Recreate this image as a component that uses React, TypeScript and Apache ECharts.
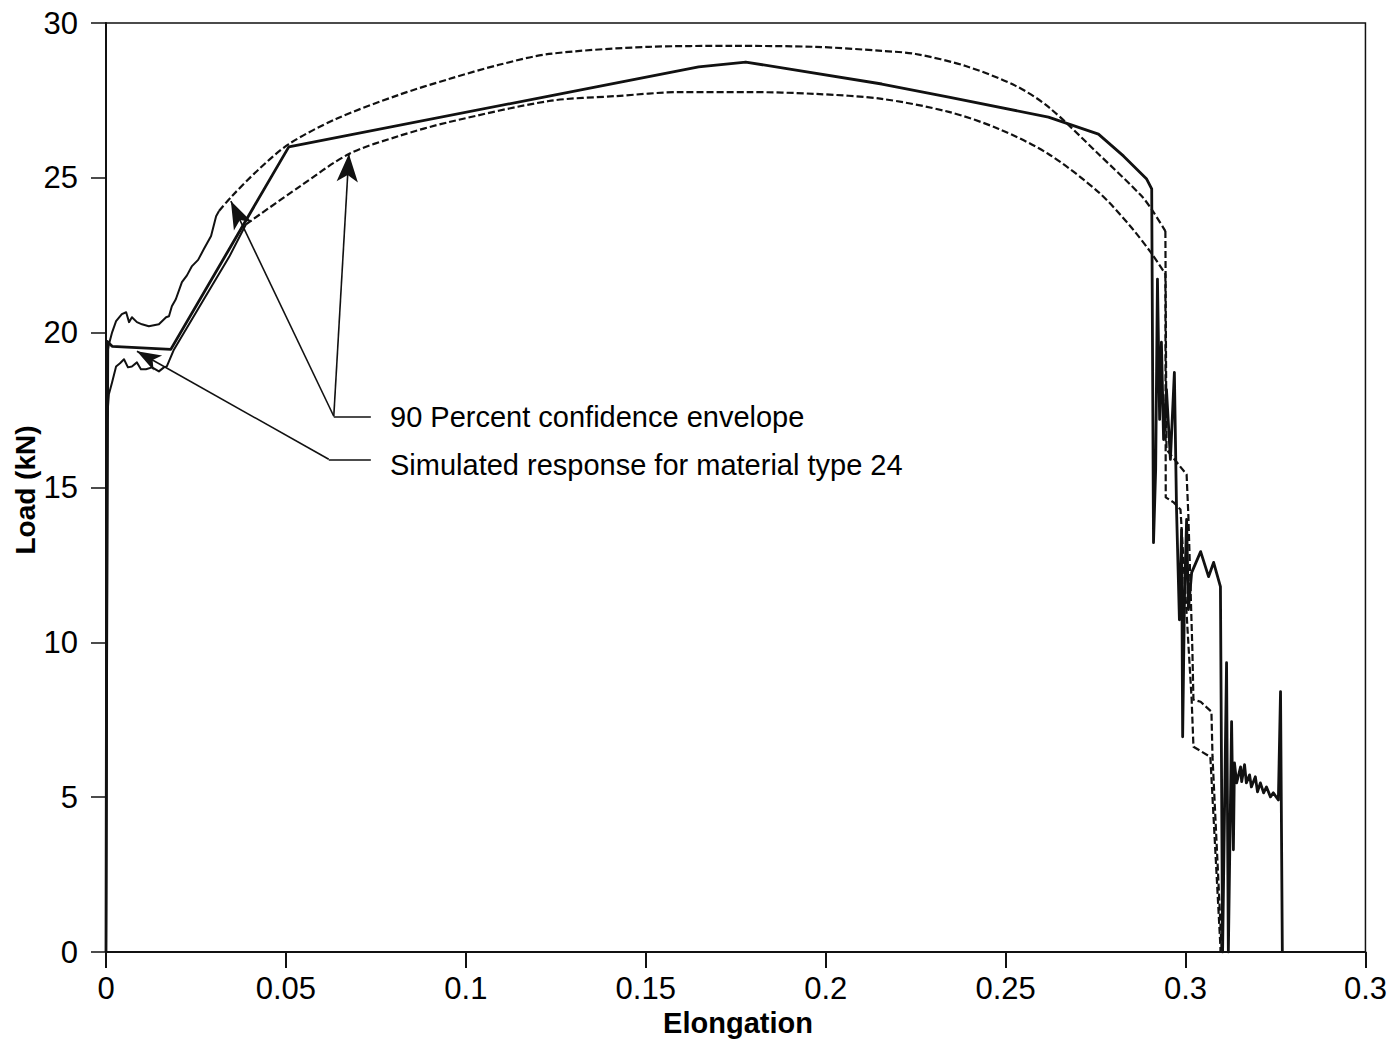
import React, { useEffect, useRef } from "react";
import * as echarts from "echarts";

// Tick labels along the elongation axis (the last tick is printed as "0.3")
const xTickLabels = ["0", "0.05", "0.1", "0.15", "0.2", "0.25", "0.3", "0.3"];

// Simulated load–elongation response, [elongation, load kN]
const simulatedResponse: number[][] = [
  [0, 0], [0.0003, 19.72], [0.0017, 19.56], [0.018, 19.46], [0.0508, 26.0],
  [0.1231, 27.64], [0.1647, 28.58], [0.1778, 28.74], [0.2156, 28.03], [0.2342, 27.61],
  [0.2619, 26.96], [0.2758, 26.41], [0.2828, 25.7], [0.2892, 24.96], [0.2906, 24.64],
  [0.2911, 13.22], [0.2917, 15.58], [0.2922, 21.73], [0.2928, 17.2], [0.2933, 19.69],
  [0.2939, 16.55], [0.2947, 18.17], [0.2958, 15.91], [0.2969, 18.72], [0.2975, 14.29],
  [0.2983, 10.73], [0.2989, 13.64], [0.2992, 6.95], [0.2997, 11.38], [0.3003, 13.97],
  [0.3008, 11.06], [0.3017, 12.25], [0.3042, 12.93], [0.3064, 12.12], [0.3078, 12.58],
  [0.3097, 11.8], [0.3103, 0], [0.3114, 9.34], [0.3119, 0], [0.3128, 7.44],
  [0.3133, 3.3], [0.3136, 6.11], [0.3142, 5.46], [0.3153, 5.98], [0.3156, 5.5],
  [0.3164, 6.05], [0.3169, 5.46], [0.3178, 5.72], [0.3183, 5.33], [0.3194, 5.66],
  [0.32, 5.17], [0.3208, 5.46], [0.3217, 5.14], [0.3225, 5.33], [0.3236, 5.01],
  [0.3244, 5.14], [0.3258, 4.91], [0.3264, 8.41], [0.3269, 0],
];

// Upper bound of the 90 percent envelope: measured start, fitted arc, stepped drop
const upperEnvelopeStart: number[][] = [
  [0, 0], [0.0006, 19.46], [0.0008, 19.62], [0.0017, 20.01], [0.0028, 20.37],
  [0.0044, 20.6], [0.0056, 20.66], [0.0064, 20.34], [0.0072, 20.5], [0.0086, 20.34],
  [0.01, 20.27], [0.0119, 20.21], [0.0147, 20.27], [0.0167, 20.5], [0.0175, 20.53],
  [0.0183, 20.85], [0.0194, 21.08], [0.0211, 21.63], [0.0225, 21.85], [0.0239, 22.15],
  [0.0256, 22.35], [0.0272, 22.7], [0.0292, 23.12], [0.0306, 23.76], [0.0314, 23.93],
];
const upperEnvelopeArc: number[][] = [
  [0.0314, 23.93], [0.035, 24.41], [0.0425, 25.28], [0.0508, 26.09], [0.0639, 26.9],
  [0.0814, 27.68], [0.0953, 28.19], [0.1092, 28.65], [0.1231, 29.0], [0.1508, 29.23],
  [0.1739, 29.26], [0.1972, 29.23], [0.2156, 29.1], [0.225, 29.0], [0.2389, 28.61],
  [0.2528, 27.97], [0.2619, 27.29], [0.2758, 25.77], [0.2878, 24.41], [0.2911, 23.89],
  [0.2944, 23.28],
];
const upperEnvelopeTail: number[][] = [
  [0.2944, 23.28], [0.2947, 16.23], [0.3003, 15.42], [0.3008, 14.06], [0.3019, 9.76],
  [0.3022, 8.15], [0.3042, 8.08], [0.3072, 7.76], [0.3075, 6.3], [0.31, 0.16], [0.31, 0],
];

// Lower bound of the 90 percent envelope
const lowerEnvelopeStart: number[][] = [
  [0, 0], [0.0003, 17.2], [0.0008, 18.01], [0.0017, 18.4], [0.0028, 18.91],
  [0.0039, 19.01], [0.005, 19.14], [0.0061, 18.88], [0.0072, 18.91], [0.0086, 19.04],
  [0.0097, 18.82], [0.0111, 18.82], [0.0128, 18.88], [0.0147, 18.75], [0.0161, 18.88],
  [0.0169, 18.91], [0.0189, 19.46], [0.0272, 21.08], [0.0342, 22.44], [0.0389, 23.5],
];
const lowerEnvelopeArc: number[][] = [
  [0.0389, 23.5], [0.0536, 24.7], [0.0675, 25.77], [0.0814, 26.35], [0.0953, 26.8],
  [0.1231, 27.48], [0.1417, 27.64], [0.16, 27.77], [0.1786, 27.77], [0.1972, 27.71],
  [0.2156, 27.55], [0.2342, 27.13], [0.2481, 26.58], [0.2619, 25.77], [0.2758, 24.54],
  [0.2842, 23.5], [0.2903, 22.6], [0.2944, 21.89],
];
const lowerEnvelopeTail: number[][] = [
  [0.2944, 21.89], [0.2945, 14.68], [0.2967, 14.52], [0.2986, 14.29], [0.3017, 8.15],
  [0.3022, 6.63], [0.3069, 6.3], [0.3097, 0.16], [0.3097, 0],
];

// Callout leaders: junction point, arrow tips and the short horizontal run to the text
const envelopeJunction = [0.0633, 17.3];
const envelopeTips = [[0.0347, 24.25], [0.0675, 25.77]];
const envelopeRunEnd = [0.0736, 17.3];
const simulatedJunction = [0.0619, 15.91];
const simulatedTip = [0.0086, 19.4];
const simulatedRunEnd = [0.0736, 15.91];

const FONT = '"Liberation Sans", Arial, Helvetica, sans-serif';
const INK = "#111";

function lineSeries(name: string, data: number[][], width: number, dashed: boolean, smooth: number | false) {
  return {
    name,
    type: "line",
    data,
    showSymbol: false,
    symbol: "none",
    smooth,
    lineStyle: { color: INK, width, type: dashed ? [7, 3] : "solid", join: "round" },
    z: 3,
  };
}

function buildOption() {
  const arrowEnd = (c: number[], w: number, h: number) => ({
    coord: c,
    symbol: "arrow",
    symbolSize: [w, h],
  });
  const plainEnd = (c: number[]) => ({ coord: c, symbol: "none" });

  return {
    animation: false,
    backgroundColor: "#fff",
    textStyle: { fontFamily: FONT, color: "#000" },
    grid: {
      left: 106,
      right: 21,
      top: 23,
      bottom: 92,
      show: true,
      borderColor: INK,
      borderWidth: 1.5,
      backgroundColor: "transparent",
    },
    xAxis: {
      type: "value",
      min: 0,
      max: 0.35,
      interval: 0.05,
      axisLine: { show: true, onZero: false, lineStyle: { color: INK, width: 2 } },
      axisTick: { show: true, inside: false, length: 16, lineStyle: { color: INK, width: 2 } },
      axisLabel: {
        fontSize: 31,
        color: "#000",
        fontFamily: FONT,
        margin: 21,
        formatter: (v: number) => xTickLabels[Math.round(v / 0.05)] ?? "",
      },
      splitLine: { show: false },
    },
    yAxis: {
      type: "value",
      min: 0,
      max: 30,
      interval: 5,
      axisLine: { show: true, onZero: false, lineStyle: { color: INK, width: 2 } },
      axisTick: { show: true, inside: false, length: 15, lineStyle: { color: INK, width: 1.5 } },
      axisLabel: { fontSize: 31, color: "#000", fontFamily: FONT, margin: 28 },
      splitLine: { show: false },
    },
    series: [
      { ...lineSeries("Simulated response", simulatedResponse, 2.8, false, false), z: 4 },
      lineSeries("Upper envelope (start)", upperEnvelopeStart, 2, false, false),
      lineSeries("Upper envelope", upperEnvelopeArc, 2.2, true, 0.3),
      lineSeries("Upper envelope (drop)", upperEnvelopeTail, 2.2, true, false),
      lineSeries("Lower envelope (start)", lowerEnvelopeStart, 2, false, false),
      lineSeries("Lower envelope", lowerEnvelopeArc, 2.2, true, 0.3),
      lineSeries("Lower envelope (drop)", lowerEnvelopeTail, 2.2, true, false),
      {
        name: "Callouts",
        type: "line",
        data: [],
        silent: true,
        markLine: {
          silent: true,
          animation: false,
          label: { show: false },
          lineStyle: { color: INK, width: 1.6, type: "solid" },
          data: [
            [plainEnd(envelopeJunction), arrowEnd(envelopeTips[0], 15, 28)],
            [plainEnd(envelopeJunction), arrowEnd(envelopeTips[1], 16, 28)],
            [plainEnd(envelopeJunction), plainEnd(envelopeRunEnd)],
            [plainEnd(simulatedJunction), arrowEnd(simulatedTip, 13, 24)],
            [plainEnd(simulatedJunction), plainEnd(simulatedRunEnd)],
          ],
        },
        z: 5,
      },
    ],
    graphic: [
      {
        type: "text",
        x: 390,
        y: 417,
        style: {
          text: "90 Percent confidence envelope",
          fontSize: 29,
          fontFamily: FONT,
          fill: "#000",
          align: "left",
          verticalAlign: "middle",
        },
        z: 10,
      },
      {
        type: "text",
        x: 390,
        y: 465,
        style: {
          text: "Simulated response for material type 24",
          fontSize: 29,
          fontFamily: FONT,
          fill: "#000",
          align: "left",
          verticalAlign: "middle",
        },
        z: 10,
      },
      {
        type: "text",
        x: 25,
        y: 490,
        rotation: Math.PI / 2,
        style: {
          text: "Load (kN)",
          fontSize: 28,
          fontWeight: "bold",
          fontFamily: FONT,
          fill: "#000",
          align: "center",
          verticalAlign: "middle",
        },
        z: 10,
      },
      {
        type: "text",
        x: 738,
        y: 1023,
        style: {
          text: "Elongation",
          fontSize: 29,
          fontWeight: "bold",
          fontFamily: FONT,
          fill: "#000",
          align: "center",
          verticalAlign: "middle",
        },
        z: 10,
      },
    ],
  };
}

export default function App() {
  const ref = useRef<HTMLDivElement>(null);

  useEffect(() => {
    if (!ref.current) return;
    const chart = echarts.init(ref.current, null, { renderer: "svg" });
    chart.setOption(buildOption() as any);
    return () => chart.dispose();
  }, []);

  return (
    <div
      ref={ref}
      style={{ position: "absolute", left: 0, top: 0, width: 1390, height: 1044, background: "#fff" }}
    />
  );
}
